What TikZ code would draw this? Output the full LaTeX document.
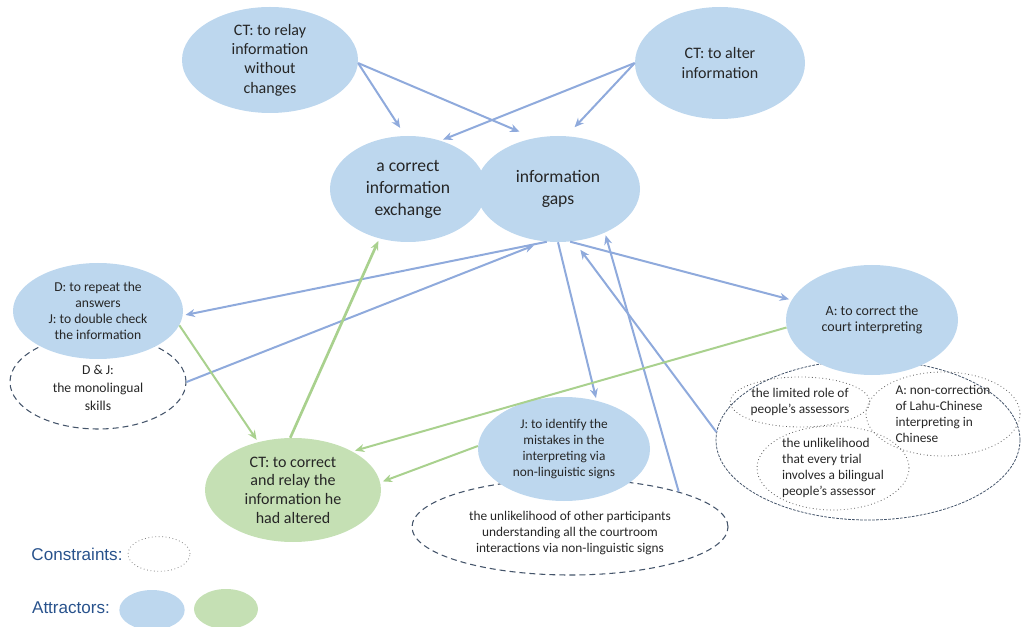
\documentclass[tikz,border=0pt]{standalone}
\usepackage{fontspec}
\setmainfont{Carlito}
\newfontfamily\legendfont{Liberation Sans}
\usetikzlibrary{arrows.meta, shapes.geometric}
\definecolor{attrblue}{RGB}{189,215,238}
\definecolor{attrgreen}{RGB}{197,224,180}
\definecolor{linkblue}{RGB}{143,170,220}
\definecolor{linkgreen}{RGB}{169,209,142}
\definecolor{limitnavy}{RGB}{68,84,106}
\definecolor{legendblue}{RGB}{40,82,140}

\begin{document}
\begin{tikzpicture}[x=0.75pt, y=-0.75pt,
    blob/.style={ellipse, inner sep=0pt, align=center, text=black!85},
    attr/.style={blob, fill=attrblue},
    attrg/.style={blob, fill=attrgreen},
    limit/.style={blob, draw=limitnavy, dash pattern=on 4.5pt off 3pt, line width=0.8pt},
    limitdot/.style={blob, draw=black!65, dotted, line width=0.6pt},
    link/.style={draw=linkblue, line width=1.5pt, -{Stealth[length=7pt,width=6pt]}, shorten >=2pt},
    linkg/.style={link, draw=linkgreen}]
    \useasboundingbox (0,0) rectangle (1024,627);

    % constraints
    \node[limit, minimum width=132pt, minimum height=70.5pt,
        font=\fontsize{10.2}{13.5}\selectfont]
        (djlimit) at (98,382) {\\[2pt]D \& J:\\the monolingual\\skills};
    \node[limit, dash pattern=on 2pt off 1pt, line width=0.6pt,
        minimum width=228pt, minimum height=120pt]
        (alimit) at (868,440) {};
    \node[limitdot, minimum width=102pt, minimum height=37.5pt,
        font=\fontsize{10}{12}\selectfont]
        (rolelimit) at (800,402) {the limited role of\\people’s assessors};
    \node[limitdot, align=left, minimum width=115.5pt, minimum height=63pt,
        font=\fontsize{10}{12}\selectfont]
        (lahulimit) at (943,414) {A: non-correction\\of Lahu-Chinese\\interpreting in\\Chinese};
    \node[limitdot, align=left, minimum width=114pt, minimum height=63pt,
        font=\fontsize{10}{12}\selectfont]
        (triallimit) at (833,468) {the unlikelihood\\that every trial\\involves a bilingual\\people’s assessor};
    \node[limit, minimum width=237pt, minimum height=72pt,
        font=\fontsize{10}{12}\selectfont]
        (signlimit) at (570,527) {\\[4pt]the unlikelihood of other participants\\understanding all the courtroom\\interactions via non-linguistic signs};

    % attractors
    \node[attr, minimum width=132pt, minimum height=79.5pt,
        font=\fontsize{12}{14.5}\selectfont]
        (relay) at (270,60) {CT: to relay\\information\\without\\changes};
    \node[attr, minimum width=127.5pt, minimum height=84pt,
        font=\fontsize{12}{15}\selectfont]
        (alter) at (720,63) {CT: to alter\\information};
    \node[attr, minimum width=117pt, minimum height=79.5pt,
        font=\fontsize{13.2}{16.5}\selectfont]
        (exchange) at (408,189) {a correct\\information\\exchange};
    \node[attr, minimum width=123pt, minimum height=79.5pt,
        font=\fontsize{13.2}{16.5}\selectfont]
        (gaps) at (558,189) {information\\gaps};
    \node[attr, minimum width=127.5pt, minimum height=72pt,
        font=\fontsize{10.2}{12}\selectfont]
        (check) at (98,311) {D: to repeat the\\answers\\J: to double check\\the information};
    \node[attr, minimum width=129pt, minimum height=82.5pt,
        font=\fontsize{10.5}{12}\selectfont]
        (assessor) at (872,320) {A: to correct the\\court interpreting};
    \node[attr, minimum width=129pt, minimum height=78pt,
        font=\fontsize{10}{12}\selectfont]
        (judge) at (564,449) {J: to identify the\\mistakes in the\\interpreting via\\non-linguistic signs};
    \node[attrg, minimum width=132pt, minimum height=78pt,
        font=\fontsize{12}{14}\selectfont]
        (recorrect) at (293,490) {CT: to correct\\and relay the\\information he\\had altered};

    % links
    \draw[link, shorten >=7pt] (relay.-2) -- (exchange.93);
    \draw[link, shorten >=12pt] (relay.-2) -- (gaps.115);
    \draw[link] (alter.180) -- (exchange.56);
    \draw[link, shorten >=9pt] (alter.180) -- (gaps.81);
    \draw[link] (gaps.258) -- (check.357);
    \draw[link, shorten >=8pt] (djlimit.0) -- (gaps.255);
    \draw[link] (gaps.270) -- (judge.56);
    \draw[link] (signlimit.18) -- (gaps.317);
    \draw[link, shorten >=8pt] (alimit.177) -- (gaps.287);
    \draw[link] (gaps.283) -- (assessor.166);
    \draw[linkg] (assessor.185) -- (recorrect.33);
    \draw[linkg] (judge.178) -- (recorrect.5);
    \draw[linkg] (check.350) -- (recorrect.126);
    \draw[linkg, line width=2pt] (recorrect.93) -- (exchange.240);

    % legend
    \node[font=\legendfont\fontsize{12.8}{14}\selectfont, text=legendblue]
        (constrtext) at (77,554) {Constraints:};
    \node[limitdot, draw=black!50, minimum width=46.5pt, minimum height=26pt]
        (constrkey) at (159,554) {};
    \node[font=\legendfont\fontsize{12.8}{14}\selectfont, text=legendblue]
        (attrtext) at (71,608) {Attractors:};
    \node[attr, minimum width=49pt, minimum height=30pt] (attrkey) at (152,610) {};
    \node[attrg, minimum width=48pt, minimum height=30pt] (attrgkey) at (226,609) {};
\end{tikzpicture}
\end{document}
